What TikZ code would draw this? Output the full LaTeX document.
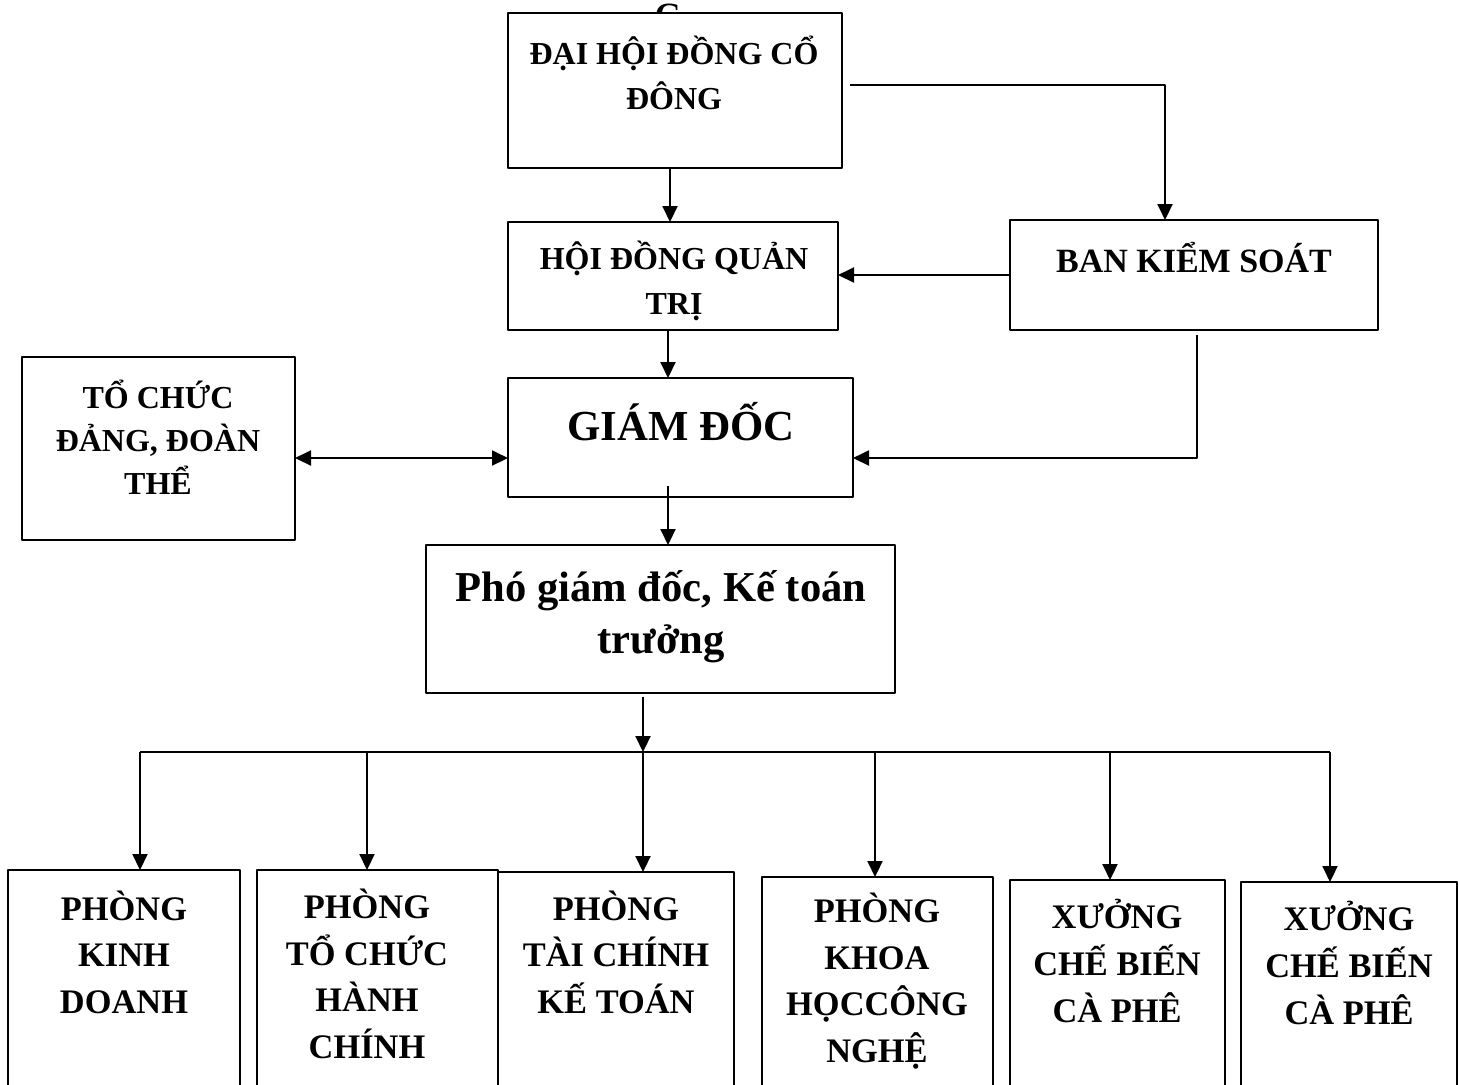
\documentclass[tikz,border=0pt]{standalone}
\usepackage{fontspec}
\setmainfont{Liberation Serif}
\usetikzlibrary{arrows.meta}

\begin{document}
\begin{tikzpicture}[line join=round, x=0.5pt, y=-0.5pt]
    \tikzset{
        box/.style={draw, fill=white, line width=1pt, inner sep=0pt, outer sep=0pt, anchor=north west},
        txt/.style={align=center, inner sep=0pt, font=\bfseries\fontsize{16}{22.5}\selectfont},
        one/.style={txt, font=\bfseries\fontsize{17}{22}\selectfont},
        low/.style={txt, font=\bfseries\fontsize{17.2}{23.3}\selectfont},
        big/.style={txt, font=\bfseries\fontsize{21.4}{26}\selectfont},
        mid/.style={txt, font=\bfseries\fontsize{21.3}{26}\selectfont},
        arr/.style={line width=1pt, -{Triangle[length=8pt, width=7.5pt]}},
        darr/.style={line width=1pt, {Triangle[length=8pt, width=7.5pt]}-{Triangle[length=8pt, width=7.5pt]}}
    }
    \clip (0,0) rectangle (1459,1084);
    % letter left behind the top box
    \node[one] (dhdcd-g) at (668,15) {G};
    \node[box, minimum width=167pt, minimum height=77.5pt] (dhdcd) at (508,13) {};
    \node[box, minimum width=165pt, minimum height=54pt] (hdqt) at (508,222) {};
    \node[box, minimum width=184pt, minimum height=55pt] (bks) at (1010,220) {};
    \node[box, minimum width=172.5pt, minimum height=59.5pt] (gd) at (508,378) {};
    \node[box, minimum width=136.5pt, minimum height=91.5pt] (tcddt) at (22,357) {};
    \node[box, minimum width=234.5pt, minimum height=74pt] (pgd) at (426,545) {};
    \foreach \i/\x/\y/\w in {1/8/870/232, 2/257/870/241, 3/498/872/236, 4/762/877/231, 5/1010/880/215, 6/1241/882/216}{
        \node[box, minimum width=\w*0.5pt, minimum height=120pt] (p\i) at (\x,\y) {};
    }

    \node[txt] (dhdcd-t) at (674,73) {ĐẠI HỘI ĐỒNG CỔ\\ĐÔNG};
    \node[txt] (hdqt-t) at (674,281) {HỘI ĐỒNG QUẢN\\TRỊ};
    \node[one] (bks-t) at (1194,258) {BAN KIỂM SOÁT};
    \node[big] (gd-t) at (681,422) {GIÁM ĐỐC};
    \node[txt, font=\bfseries\fontsize{16}{21.5}\selectfont] (tcddt-t) at (158,437) {TỔ CHỨC\\ĐẢNG, ĐOÀN\\THỂ};
    \node[mid] (pgd-t) at (661,617) {Phó giám đốc, Kế toán\\trưởng};
    \node[low] (p1-t) at (124,952) {PHÒNG\\KINH\\DOANH};
    \node[low] (p2-t) at (367,974) {PHÒNG\\TỔ CHỨC\\HÀNH\\CHÍNH};
    \node[low] (p3-t) at (616,952) {PHÒNG\\TÀI CHÍNH\\KẾ TOÁN};
    \node[low] (p4-t) at (877,981) {PHÒNG\\KHOA\\HỌCCÔNG\\NGHỆ};
    \node[low] (p5-t) at (1117,961) {XƯỞNG\\CHẾ BIẾN\\CÀ PHÊ};
    \node[low] (p6-t) at (1349,963) {XƯỞNG\\CHẾ BIẾN\\CÀ PHÊ};

    \draw[arr] ([xshift=-2.5pt]dhdcd.south) -- ([xshift=-2.5pt]dhdcd.south |- hdqt.north);
    \draw[arr] ([xshift=4pt, yshift=2.75pt]dhdcd.east) -| ([xshift=-14.5pt]bks.north);
    \draw[arr] (bks.west) -- (bks.west -| hdqt.east);
    \draw[arr] ([xshift=-2.5pt]hdqt.south) -- ([xshift=-2.5pt]hdqt.south |- gd.north);
    \draw[arr] ([xshift=1.5pt, yshift=-2.5pt]bks.south) |- ([yshift=-10.25pt]gd.east);
    \draw[darr] ([yshift=-10.25pt]gd.west -| tcddt.east) -- ([yshift=-10.25pt]gd.west);
    \draw[arr] ([xshift=-6.25pt, yshift=5.5pt]gd.south) -- ([xshift=-6.25pt]gd.south |- pgd.north);

    \foreach \i/\x in {1/140, 2/367, 3/643, 4/875, 5/1110, 6/1330}{
        \coordinate (d\i) at (\x,752);
    }
    \draw[arr] ([yshift=-2pt]pgd.south -| d3) -- (d3);
    \draw[line width=1pt] (d1) -- (d6);
    \foreach \i in {1,...,6}{
        \draw[arr] (d\i) -- (d\i |- p\i.north);
    }
\end{tikzpicture}
\end{document}
